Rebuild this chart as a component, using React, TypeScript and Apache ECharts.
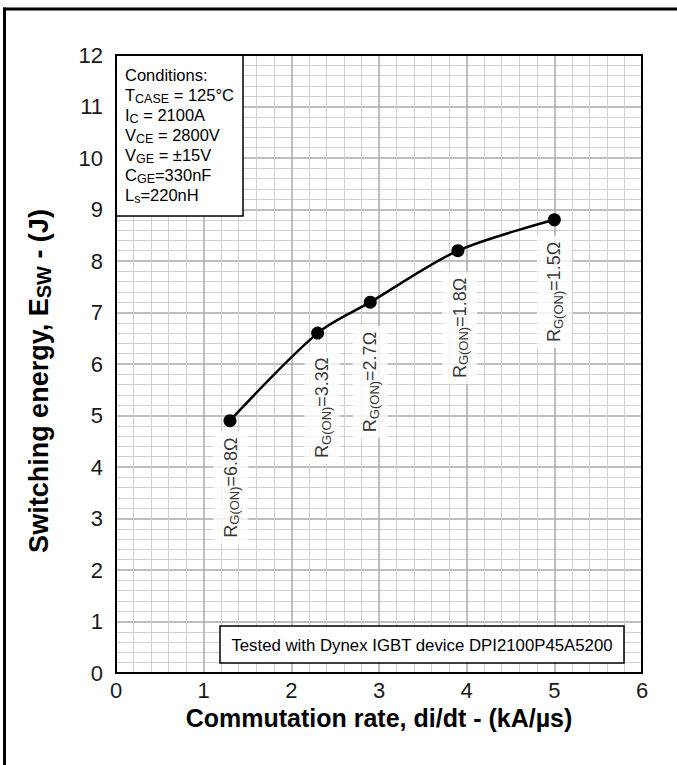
import React, { useEffect, useRef } from "react";
import * as echarts from "echarts";

// Data
const rateKAus = [1.3, 2.3, 2.9, 3.9, 5.0];
const energyJ = [4.9, 6.6, 7.2, 8.2, 8.8];
const gateRes = ["6.8", "3.3", "2.7", "1.8", "1.5"];
const labelX = [1.31, 2.35, 2.9, 3.92, 5.0];
const labelY = [3.6, 5.15, 5.65, 6.7, 7.4];
const conditionLines = [
  ["Conditions:", "", ""],
  ["T", "CASE", " = 125°C"],
  ["I", "C", " = 2100A"],
  ["V", "CE", " = 2800V"],
  ["V", "GE", " = ±15V"],
  ["C", "GE", "=330nF"],
  ["L", "s", "=220nH"],
];
const testedNote = "Tested with Dynex IGBT device DPI2100P45A5200";

const FONT = "'Liberation Sans', Arial, sans-serif";
const G = { left: 116, top: 55, width: 526, height: 618 };

export default function App() {
  const ref = useRef<HTMLDivElement>(null);
  useEffect(() => {
    if (!ref.current) return;
    const chart = echarts.init(ref.current, null, { renderer: "svg" });
    const condText = conditionLines
      .map(([a, s, b]) => (s ? `{n|${a}}{s|${s}}{n|${b}}` : `{n|${a}}`))
      .join("\n");
    const option: any = {
      animation: false,
      backgroundColor: "#ffffff",
      grid: {
        left: G.left,
        top: G.top,
        width: G.width,
        height: G.height,
        containLabel: false,
      },
      xAxis: {
        type: "value",
        min: 0,
        max: 6,
        interval: 1,
        name: "Commutation rate, di/dt - (kA/µs)",
        nameLocation: "middle",
        nameGap: 32,
        nameTextStyle: { fontFamily: FONT, fontSize: 25, fontWeight: "bold", color: "#000" },
        axisLine: { show: false },
        axisTick: { show: false },
        axisLabel: { fontFamily: FONT, fontSize: 22, color: "#1a1a1a", margin: 6 },
        splitLine: { show: true, lineStyle: { color: "#aaaaaa", width: 1.5 } },
        minorTick: { show: false, splitNumber: 5 },
        minorSplitLine: { show: true, lineStyle: { color: "#d0d0d0", width: 1 } },
      },
      yAxis: {
        type: "value",
        min: 0,
        max: 12,
        interval: 1,
        name: "{b|Switching energy, E}{sb|SW}{b| - (J)}",
        nameLocation: "middle",
        nameGap: 62,
        nameTextStyle: {
          padding: [0, 34, 0, 0],
          rich: {
            b: { fontFamily: FONT, fontSize: 27, fontWeight: "bold", color: "#000", lineHeight: 31 },
            sb: { fontFamily: FONT, fontSize: 20, fontWeight: "bold", color: "#000", lineHeight: 19, verticalAlign: "bottom" },
          },
        },
        axisLine: { show: false },
        axisTick: { show: false },
        axisLabel: { fontFamily: FONT, fontSize: 22, color: "#1a1a1a", margin: 13 },
        splitLine: { show: true, lineStyle: { color: "#aaaaaa", width: 1.5 } },
        minorTick: { show: false, splitNumber: 5 },
        minorSplitLine: { show: true, lineStyle: { color: "#d0d0d0", width: 1 } },
      },
      series: [
        {
          type: "line",
          data: rateKAus.map((x, i) => [x, energyJ[i]]),
          smooth: 0.3,
          symbol: "circle",
          symbolSize: 13,
          lineStyle: { color: "#000", width: 2.5 },
          itemStyle: { color: "#000" },
          z: 5,
        },
        {
          type: "scatter",
          data: labelX.map((x, i) => [x, labelY[i], gateRes[i]]),
          symbolSize: 0,
          silent: true,
          z: 4,
          label: {
            show: true,
            position: "inside",
            rotate: 90,
            backgroundColor: "#fff",
            padding: [7, 6],
            formatter: (p: any) => `{r|R}{s|G(ON)}{r|=${p.value[2]}Ω}`,
            rich: {
              r: { fontFamily: FONT, fontSize: 18, color: "#000", lineHeight: 21 },
              s: { fontFamily: FONT, fontSize: 13, color: "#000", lineHeight: 13, verticalAlign: "bottom" },
            },
          },
        },
      ],
      graphic: [
        {
          type: "rect",
          z: 100,
          shape: { x: G.left, y: G.top, width: 127, height: 161 },
          style: { fill: "#fff", stroke: "#000", lineWidth: 1.5 },
        },
        {
          type: "text",
          z: 101,
          x: 125,
          y: 65,
          style: {
            text: condText,
            rich: {
              n: { fontFamily: FONT, fontSize: 16.5, color: "#000", lineHeight: 20 },
              s: { fontFamily: FONT, fontSize: 12.5, color: "#000", lineHeight: 12, verticalAlign: "bottom" },
            },
          },
        },
        {
          type: "rect",
          z: 100,
          shape: { x: 220, y: 626, width: 404, height: 37 },
          style: { fill: "#fff", stroke: "#000", lineWidth: 1.5 },
        },
        {
          type: "text",
          z: 101,
          x: 422,
          y: 645,
          style: {
            text: testedNote,
            fontFamily: FONT,
            fontSize: 16.8,
            fill: "#000",
            align: "center",
            verticalAlign: "middle",
          },
        },
        {
          type: "rect",
          z: 102,
          shape: { x: G.left, y: G.top, width: G.width, height: G.height },
          style: { fill: "none", stroke: "#000", lineWidth: 2 },
        },
        {
          type: "line",
          z: 102,
          shape: { x1: 3, y1: 9, x2: 677, y2: 9 },
          style: { stroke: "#000", lineWidth: 3 },
        },
        {
          type: "line",
          z: 102,
          shape: { x1: 4.5, y1: 7.5, x2: 4.5, y2: 765 },
          style: { stroke: "#000", lineWidth: 3 },
        },
      ],
    };
    chart.setOption(option);
    return () => chart.dispose();
  }, []);
  return (
    <div
      ref={ref}
      style={{ position: "absolute", left: 0, top: 0, width: 677, height: 765 }}
    />
  );
}
